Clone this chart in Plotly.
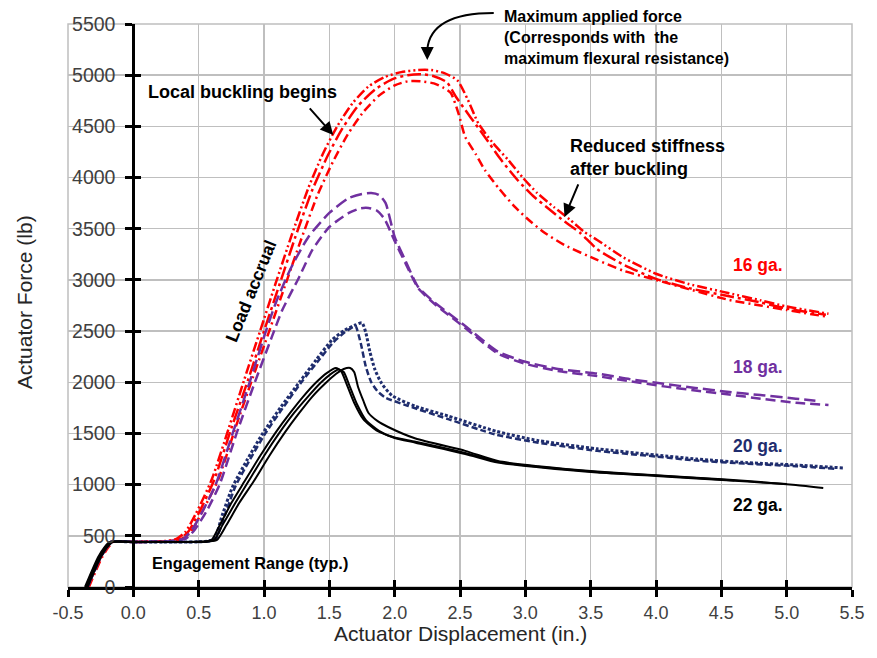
import plotly.graph_objects as go

FONT = "Liberation Sans, Arial, sans-serif"

# ---------------- data ----------------
x_tick_vals = [-0.5, 0.0, 0.5, 1.0, 1.5, 2.0, 2.5, 3.0, 3.5, 4.0, 4.5, 5.0, 5.5]
x_tick_text = ["-0.5", "0.0", "0.5", "1.0", "1.5", "2.0", "2.5", "3.0", "3.5", "4.0", "4.5", "5.0", "5.5"]
y_tick_vals = [0, 500, 1000, 1500, 2000, 2500, 3000, 3500, 4000, 4500, 5000, 5500]

# 16 ga. (three specimens)
g16a_x = [-0.36, -0.31, -0.26, -0.21, -0.17, 0.0, 0.25, 0.33, 0.40, 0.48, 0.60, 0.73, 0.85, 0.97, 1.09, 1.21,
          1.34, 1.45, 1.56, 1.68, 1.80, 1.92, 2.05, 2.18, 2.28, 2.38, 2.48, 2.56, 2.64, 2.75, 2.87, 2.98, 3.09,
          3.22, 3.34, 3.45, 3.55, 3.75, 4.0, 4.25, 4.56, 4.8, 5.0, 5.32]
g16a_y = [0, 150, 290, 390, 440, 445, 450, 470, 540, 720, 1050, 1550, 2030, 2500, 2970, 3430,
          3900, 4230, 4500, 4730, 4890, 4980, 5030, 5050, 5050, 5020, 4950, 4760, 4530, 4340, 4170, 4000, 3850,
          3710, 3590, 3470, 3390, 3220, 3060, 2960, 2870, 2800, 2740, 2670]

g16b_x = [-0.35, -0.30, -0.25, -0.20, -0.16, 0.0, 0.25, 0.35, 0.42, 0.50, 0.62, 0.75, 0.88, 1.00, 1.12, 1.24,
          1.37, 1.49, 1.60, 1.72, 1.85, 1.98, 2.10, 2.20, 2.30, 2.40, 2.47, 2.58, 2.69, 2.81, 2.94, 3.06, 3.19,
          3.30, 3.42, 3.55, 3.75, 4.0, 4.25, 4.56, 4.8, 5.0, 5.30]
g16b_y = [0, 150, 290, 390, 440, 440, 445, 465, 540, 720, 1050, 1550, 2030, 2500, 2960, 3420,
          3880, 4220, 4480, 4700, 4860, 4960, 5000, 5010, 4990, 4930, 4787, 4590, 4397, 4180, 3976, 3820, 3683,
          3570, 3459, 3300, 3150, 3010, 2920, 2840, 2780, 2720, 2660]

g16c_x = [-0.34, -0.29, -0.24, -0.19, -0.15, 0.0, 0.25, 0.36, 0.44, 0.52, 0.65, 0.78, 0.91, 1.04, 1.16, 1.28,
          1.41, 1.53, 1.64, 1.76, 1.88, 2.0, 2.10, 2.20, 2.30, 2.37, 2.43, 2.49, 2.54, 2.62, 2.69, 2.80, 2.92,
          3.04, 3.15, 3.30, 3.55, 3.75, 4.0, 4.25, 4.56, 4.8, 5.0, 5.32]
g16c_y = [0, 150, 290, 390, 440, 440, 445, 465, 540, 720, 1050, 1550, 2030, 2500, 2940, 3380,
          3830, 4160, 4420, 4640, 4800, 4900, 4940, 4940, 4920, 4880, 4826, 4620, 4397, 4230, 4074, 3890, 3713,
          3570, 3459, 3340, 3195, 3090, 3000, 2910, 2804, 2750, 2706, 2638]

# 18 ga. (two specimens)
g18a_x = [-0.35, -0.30, -0.25, -0.20, -0.16, 0.0, 0.25, 0.38, 0.45, 0.53, 0.63, 0.76, 0.89, 1.01, 1.09, 1.21,
          1.34, 1.50, 1.65, 1.75, 1.82, 1.88, 1.93, 2.0, 2.08, 2.18, 2.31, 2.41, 2.55, 2.79, 3.0, 3.25, 3.55,
          3.8, 4.06, 4.3, 4.56, 4.8, 5.07, 5.22]
g18a_y = [0, 150, 290, 390, 440, 440, 445, 470, 560, 740, 1000, 1500, 2000, 2482, 2775, 3126,
          3420, 3654, 3800, 3840, 3849, 3830, 3752, 3420, 3195, 2931, 2775, 2677, 2540, 2300, 2200, 2130, 2085,
          2030, 1985, 1945, 1905, 1875, 1840, 1820]

g18b_x = [-0.36, -0.31, -0.26, -0.21, -0.17, 0.0, 0.25, 0.40, 0.47, 0.56, 0.66, 0.79, 0.93, 1.06, 1.14, 1.27,
          1.37, 1.50, 1.65, 1.74, 1.80, 1.86, 1.92, 2.0, 2.08, 2.18, 2.31, 2.41, 2.55, 2.79, 3.0, 3.25, 3.55,
          3.8, 4.06, 4.3, 4.56, 4.8, 5.07, 5.32]
g18b_y = [0, 150, 290, 390, 440, 440, 445, 470, 560, 740, 1000, 1500, 2000, 2443, 2706, 3029,
          3293, 3517, 3654, 3700, 3703, 3680, 3600, 3380, 3170, 2920, 2760, 2660, 2520, 2280, 2180, 2110, 2060,
          2010, 1960, 1920, 1880, 1840, 1800, 1778]

# 20 ga. (two specimens)
g20a_x = [-0.36, -0.31, -0.26, -0.21, -0.17, 0.0, 0.3, 0.55, 0.62, 0.68, 0.76, 0.87, 0.99, 1.13, 1.27, 1.40,
          1.52, 1.62, 1.70, 1.75, 1.78, 1.81, 1.85, 1.90, 1.98, 2.16, 2.41, 2.78, 3.1, 3.55, 4.0, 4.31, 4.7,
          5.07, 5.43]
g20a_y = [0, 150, 290, 390, 440, 440, 440, 445, 470, 700, 980, 1240, 1500, 1760, 2000, 2220,
          2413, 2510, 2560, 2580, 2480, 2300, 2120, 1990, 1870, 1765, 1670, 1520, 1430, 1350, 1290, 1250, 1215,
          1192, 1163]

g20b_x = [-0.35, -0.30, -0.25, -0.20, -0.16, 0.0, 0.3, 0.57, 0.63, 0.70, 0.78, 0.89, 1.01, 1.15, 1.28, 1.41,
          1.53, 1.62, 1.68, 1.70, 1.74, 1.78, 1.82, 1.87, 1.93, 2.1, 2.41, 2.77, 3.1, 3.55, 4.0, 4.31, 4.7,
          5.07, 5.38]
g20b_y = [0, 150, 290, 390, 440, 440, 440, 445, 470, 700, 980, 1240, 1500, 1760, 1990, 2200,
          2390, 2490, 2540, 2550, 2384, 2150, 2003, 1910, 1850, 1770, 1640, 1490, 1410, 1330, 1275, 1235, 1205,
          1180, 1155]

# 22 ga. (three specimens)
g22a_x = [-0.37, -0.32, -0.27, -0.22, -0.18, 0.0, 0.3, 0.55, 0.60, 0.66, 0.75, 0.85, 0.97, 1.09, 1.20, 1.30,
          1.40, 1.48, 1.55, 1.59, 1.63, 1.69, 1.76, 1.86, 2.0, 2.16, 2.54, 2.79, 3.1, 3.55, 4.0, 4.31, 4.6]
g22a_y = [0, 150, 290, 390, 440, 440, 440, 445, 460, 600, 820, 1030, 1280, 1510, 1700, 1860,
          2000, 2090, 2140, 2110, 1990, 1800, 1640, 1530, 1460, 1420, 1310, 1221, 1175, 1124, 1090, 1065, 1040]

g22b_x = [-0.36, -0.31, -0.26, -0.21, -0.17, 0.0, 0.3, 0.56, 0.62, 0.68, 0.78, 0.88, 1.00, 1.12, 1.23, 1.33,
          1.43, 1.51, 1.57, 1.61, 1.65, 1.71, 1.78, 1.88, 2.0, 2.16, 2.54, 2.79, 3.1, 3.55, 4.0, 4.31, 4.7, 5.0]
g22b_y = [0, 150, 290, 390, 440, 440, 440, 445, 460, 600, 820, 1030, 1280, 1510, 1700, 1850,
          1990, 2080, 2125, 2100, 1980, 1790, 1630, 1525, 1455, 1410, 1300, 1215, 1170, 1118, 1085, 1060, 1030, 1005]

g22c_x = [-0.35, -0.30, -0.25, -0.20, -0.16, 0.0, 0.3, 0.58, 0.64, 0.71, 0.81, 0.92, 1.04, 1.16, 1.27, 1.37,
          1.47, 1.55, 1.61, 1.66, 1.69, 1.72, 1.76, 1.80, 1.87, 1.95, 2.16, 2.54, 2.79, 3.1, 3.55, 4.0, 4.31,
          4.7, 5.07, 5.28]
g22c_y = [0, 150, 290, 390, 440, 440, 440, 445, 460, 600, 820, 1030, 1280, 1510, 1700, 1860,
          1990, 2080, 2130, 2140, 2100, 1954, 1820, 1700, 1620, 1563, 1450, 1330, 1230, 1180, 1128, 1092, 1068,
          1035, 997, 967]

# ---------------- styling ----------------
RED = "#FF0000"
PURPLE = "#7030A0"
NAVY = "#1F2D6E"
BLACK = "#000000"

series = [
    (g16a_x, g16a_y, RED, "10px,3px,2px,3px,2px,3px", 2.5, "xy"),
    (g16b_x, g16b_y, RED, "14px,4px,3px,4px", 2.5, "xy"),
    (g16c_x, g16c_y, RED, "9px,4px,2px,4px", 2.5, "xy"),
    (g18a_x, g18a_y, PURPLE, "12px,5px", 2.5, "xy"),
    (g18b_x, g18b_y, PURPLE, "10px,5px", 2.5, "xy"),
    (g20a_x, g20a_y, NAVY, "3px,2px", 3, "xy"),
    (g20b_x, g20b_y, NAVY, "6px,3px", 2.5, "xy"),
    (g22a_x, g22a_y, BLACK, "solid", 2, "x2y2"),
    (g22b_x, g22b_y, BLACK, "solid", 2, "x2y2"),
    (g22c_x, g22c_y, BLACK, "solid", 2, "x2y2"),
]

fig = go.Figure()
for xs, ys, col, dash, w, ax in series:
    fig.add_trace(go.Scatter(
        x=xs, y=ys, mode="lines",
        line=dict(color=col, width=w, dash=dash, shape="spline", smoothing=0.6),
        xaxis="x" if ax == "xy" else "x2",
        yaxis="y" if ax == "xy" else "y2",
        showlegend=False, hoverinfo="skip",
    ))

x_range = [x_tick_vals[0], x_tick_vals[-1]]
y_range = [y_tick_vals[0], y_tick_vals[-1]]
y_pos = (0 - x_range[0]) / (x_range[1] - x_range[0])

GRID = "#BFBFBF"

fig.update_layout(
    width=877, height=658,
    margin=dict(l=68, r=19, t=24, b=71),
    paper_bgcolor="white", plot_bgcolor="white",
    hovermode=False,
    xaxis=dict(range=x_range, tickvals=x_tick_vals, ticktext=x_tick_text, domain=[0, 1],
               showgrid=True, gridcolor=GRID, gridwidth=1.5, zeroline=False,
               showline=True, linecolor="black", linewidth=3,
               ticks="outside", ticklen=7, tickwidth=3, tickcolor="black",
               tickfont=dict(family=FONT, size=18, color="#404040"), anchor="y", ticklabelstandoff=0),
    yaxis=dict(range=y_range, tickvals=y_tick_vals, domain=[0, 1],
               showgrid=True, gridcolor=GRID, gridwidth=1.5, zeroline=False,
               showline=True, linecolor="black", linewidth=3,
               ticks="outside", ticklen=7, tickwidth=3, tickcolor="black",
               tickfont=dict(family=FONT, size=19.5, color="#404040"),
               anchor="free", position=y_pos, ticklabelstandoff=6),
    xaxis2=dict(range=x_range, tickvals=x_tick_vals, overlaying="x", anchor="y2",
                showgrid=False, zeroline=False, showline=False, showticklabels=False,
                ticks="inside", ticklen=7, tickwidth=3, tickcolor="black"),
    yaxis2=dict(range=y_range, tickvals=y_tick_vals, overlaying="y", anchor="free", position=y_pos,
                showgrid=False, zeroline=False, showline=False, showticklabels=False,
                ticks="inside", ticklen=7, tickwidth=3, tickcolor="black"),
)

# plot-area frame (outer gridlines)
fig.add_shape(type="rect", xref="paper", yref="paper", x0=0, x1=1, y0=0, y1=1,
              line=dict(color=GRID, width=1.5), layer="below")

# axis titles
fig.add_annotation(text="Actuator Displacement (in.)", xref="paper", yref="paper", x=0.5, y=-0.082,
                   xanchor="center", yanchor="middle", showarrow=False,
                   font=dict(family=FONT, size=21, color="#262626"))
fig.add_annotation(text="Actuator Force (lb)", xref="paper", yref="paper", x=-0.056, y=0.506,
                   xanchor="center", yanchor="middle", textangle=-90, showarrow=False,
                   font=dict(family=FONT, size=21, color="#262626"))


def txt(t, x, y, size, xanchor="left", color="black", angle=0, align="left"):
    fig.add_annotation(text="<b>" + t + "</b>", x=x, y=y, xref="x", yref="y", xanchor=xanchor,
                       yanchor="middle", showarrow=False, textangle=angle, align=align,
                       font=dict(family=FONT, size=size, color=color))


def arrow(x0, y0, x1, y1):
    fig.add_annotation(text="", x=x1, y=y1, ax=x0, ay=y0, xref="x", yref="y", axref="x", ayref="y",
                       showarrow=True, arrowhead=2, arrowsize=1.3, arrowwidth=2, arrowcolor="black")


txt("Local buckling begins", 0.10, 4836, 18)
arrow(1.34, 4690, 1.53, 4416)

fig.add_annotation(text="<b>Maximum applied force<br>(Corresponds with  the<br>maximum flexural resistance)</b>",
                   xref="paper", yref="paper", x=(505 - 68) / 790, y=(587 - 38) / 563,
                   xanchor="left", yanchor="middle", align="left", showarrow=False,
                   font=dict(family=FONT, size=16, color="black"))
# curved arrow
px = lambda v: (v - 68) / 790
py = lambda v: (587 - v) / 563
fig.add_shape(type="path", xref="paper", yref="paper",
              path=f"M {px(497)} {py(13)} Q {px(433)} {py(13)} {px(430)} {py(50)}",
              line=dict(color="black", width=2))
fig.add_annotation(text="", xref="paper", yref="paper", axref="pixel", ayref="pixel",
                   x=px(430), y=py(60), ax=0, ay=-12,
                   showarrow=True, arrowhead=2, arrowsize=1.3, arrowwidth=2, arrowcolor="black")

txt("Reduced stiffness<br>after buckling", 3.33, 4196, 18)
arrow(3.41, 3947, 3.30, 3615)

txt("Load accrual", 0.90, 2892, 17.5, xanchor="center", angle=-68)
txt("Engagement Range (typ.)", 0.126, 234, 16.3)

txt("16 ga.", 4.78, 3146, 17.5, xanchor="center", color=RED)
txt("18 ga.", 4.78, 2150, 17.5, xanchor="center", color=PURPLE)
txt("20 ga.", 4.78, 1378, 17.5, xanchor="center", color=NAVY)
txt("22 ga.", 4.78, 800, 17.5, xanchor="center", color=BLACK)

fig.write_html("out.html", config={"displayModeBar": False, "staticPlot": True},
               post_script="document.body.style.margin='0';document.body.style.padding='0';")
